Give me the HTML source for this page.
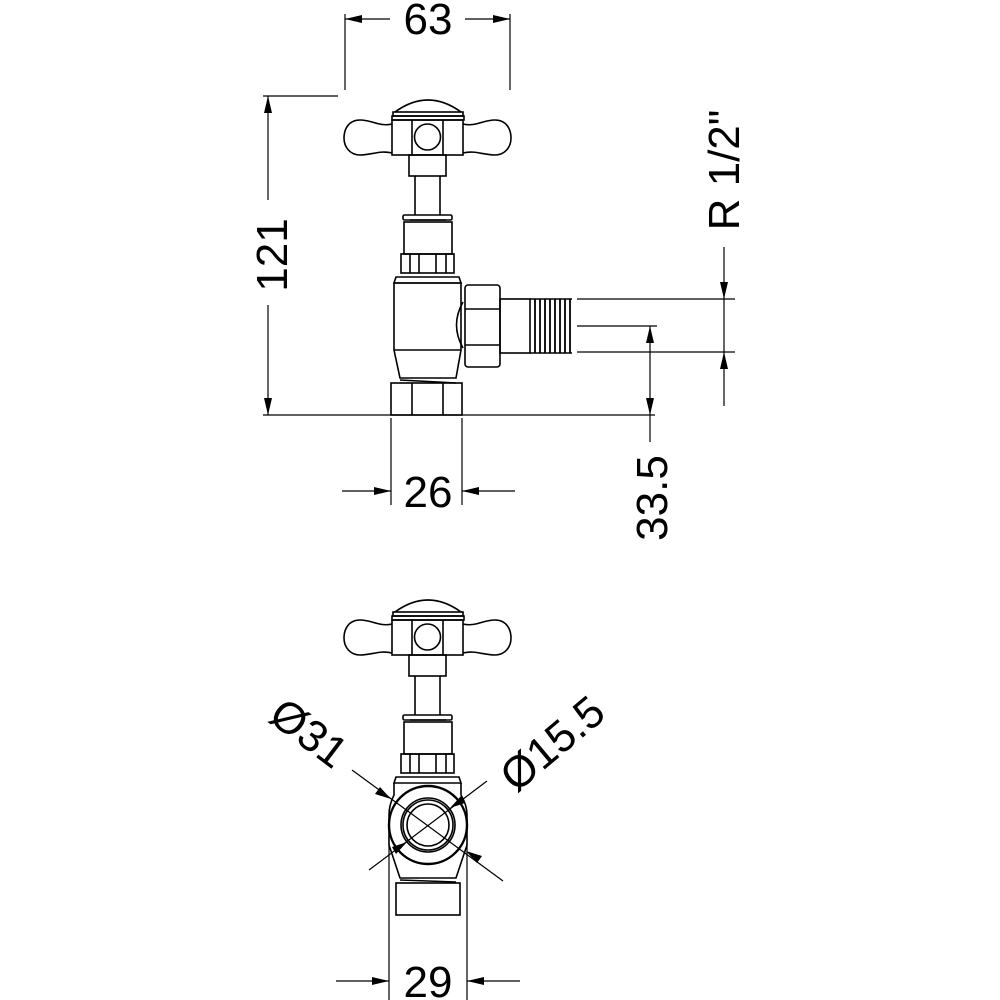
<!DOCTYPE html>
<html><head><style>html,body{margin:0;padding:0;background:#fff}svg{display:block}</style></head>
<body>
<svg width="1000" height="1000" viewBox="0 0 1000 1000" xmlns="http://www.w3.org/2000/svg">
<defs>
<g id="head" fill="none" stroke="#000" stroke-width="1.6">
 <path d="M395,112 Q428,88 461,112"/>
 <rect x="393" y="112" width="70" height="4"/>
 <rect x="392" y="116" width="72" height="4"/>
 <rect x="392" y="120" width="71" height="35"/>
 <line x1="412" y1="120" x2="412" y2="155"/><line x1="443" y1="120" x2="443" y2="155"/>
 <circle cx="427.5" cy="137" r="13"/>
 <path d="M392,124 C380,127 372,120 360,120 C348,120 344,130 344,138 C344,147 350,155 360,155 C372,155 380,150 392,153"/>
 <path d="M463,124 C475,127 483,120 495,120 C507,120 511,130 511,138 C511,147 505,155 495,155 C483,155 475,150 463,153"/>
 <rect x="409" y="155" width="37" height="21"/>
 <line x1="415" y1="176" x2="415" y2="215"/><line x1="440" y1="176" x2="440" y2="215"/>
 <rect x="403" y="215" width="49" height="5" rx="1.5"/>
 <rect x="404" y="222" width="48" height="32"/>
 <line x1="410" y1="220" x2="446" y2="220"/>
 <rect x="401" y="254" width="53" height="19"/>
 <line x1="410" y1="254" x2="410" y2="273"/><line x1="419" y1="254" x2="419" y2="273"/>
 <line x1="436" y1="254" x2="436" y2="273"/><line x1="446" y1="254" x2="446" y2="273"/>
</g>
</defs>
<g fill="none" stroke="#000" stroke-width="1.6">
<use href="#head"/>
<path d="M394,283 L394,350 L400,378 L456,378 L461,350 L461,283 Z"/>
<path d="M396,277 L459,277 L461,283 L394,283 Z"/>
<line x1="394" y1="350" x2="461" y2="350"/>
<path d="M400,380 L456,383"/>
<rect x="391" y="383" width="71" height="32"/>
<line x1="412" y1="383" x2="412" y2="415"/><line x1="443" y1="383" x2="443" y2="415"/>
<path d="M463,302 Q450,325 463,348"/>
<rect x="465" y="285" width="35" height="82" rx="3"/>
<line x1="465" y1="309" x2="500" y2="309"/><line x1="465" y1="345" x2="500" y2="345"/>
<rect x="500" y="299" width="30" height="54"/>
<path d="M530,299 L572,299 M530,353 L572,353"/>
<path d="M535,299v54M540,299v54M545,299v54M550,299v54M555,299v54M560,299v54M565,299v54M570,299v54" stroke-width="1.8"/>

<use href="#head" transform="translate(0,500)"/>
<path d="M396,777 L459,777 L461,783 L394,783 Z"/>
<path d="M394,783 L394,795 Q389,805 389,815 L389,845 L400,878 L456,878 L467,845 L467,815 Q467,805 461,795 L461,783"/>
<circle cx="428" cy="825" r="39" fill="#fff" stroke-width="2.4"/>
<circle cx="428" cy="825" r="27"/><circle cx="428" cy="825" r="25"/>
<circle cx="428" cy="825" r="21"/>
<path d="M400,880 L456,882"/>
<rect x="396" y="883" width="64" height="32"/>
</g>

<g stroke="#000" stroke-width="1.2" fill="none">
<line x1="345" y1="14" x2="345" y2="90"/><line x1="510" y1="14" x2="510" y2="90"/>
<line x1="345" y1="19" x2="390" y2="19"/><line x1="465" y1="19" x2="510" y2="19"/>
<line x1="263" y1="96" x2="338" y2="96"/>
<line x1="268" y1="96" x2="268" y2="200"/><line x1="268" y1="305" x2="268" y2="415"/>
<line x1="263" y1="415" x2="655" y2="415"/>
<line x1="391" y1="418" x2="391" y2="505"/><line x1="462" y1="418" x2="462" y2="505"/>
<line x1="342" y1="491" x2="391" y2="491"/><line x1="462" y1="491" x2="515" y2="491"/>
<line x1="577" y1="299" x2="735" y2="299"/><line x1="577" y1="352" x2="735" y2="352"/>
<line x1="577" y1="326" x2="657" y2="326"/>
<line x1="724" y1="247" x2="724" y2="406"/>
<line x1="650" y1="326" x2="650" y2="442"/>
<line x1="389" y1="845" x2="389" y2="1000"/><line x1="467" y1="845" x2="467" y2="1000"/>
<line x1="336" y1="981" x2="389" y2="981"/><line x1="467" y1="981" x2="520" y2="981"/>
<line x1="352" y1="770" x2="503" y2="881"/>
<line x1="487" y1="781" x2="369" y2="870"/>
</g>
<g fill="#000">
<polygon points="345,19 362,15 362,23"/><polygon points="510,19 493,15 493,23"/>
<polygon points="268,96 264,113 272,113"/><polygon points="268,415 264,398 272,398"/>
<polygon points="391,491 374,487 374,495"/><polygon points="462,491 479,487 479,495"/>
<polygon points="724,299 720,282 728,282"/><polygon points="724,352 720,369 728,369"/>
<polygon points="650,326 646,343 654,343"/><polygon points="650,415 646,398 654,398"/>
<polygon points="389,981 372,977 372,985"/><polygon points="467,981 484,977 484,985"/>
<polygon points="391,799 375,794 380,787"/>
<polygon points="466,851 482,856 477,863"/>
<polygon points="450,808 461,796 465,803"/>
<polygon points="407,842 396,854 392,847"/>
</g>
<g font-family="Liberation Sans, sans-serif" font-size="44" fill="#000" text-anchor="middle">
<text x="428" y="34">63</text>
<text transform="translate(287,255) rotate(-90)">121</text>
<text x="428" y="507">26</text>
<text transform="translate(667,498) rotate(-90)">33.5</text>
<text transform="translate(739,170) rotate(-90)">R 1/2"</text>
<text x="428" y="997">29</text>
<text transform="translate(300,745) rotate(37)">Ø31</text>
<text transform="translate(562,755) rotate(-40)">Ø15.5</text>
</g>
</svg>
</body></html>
